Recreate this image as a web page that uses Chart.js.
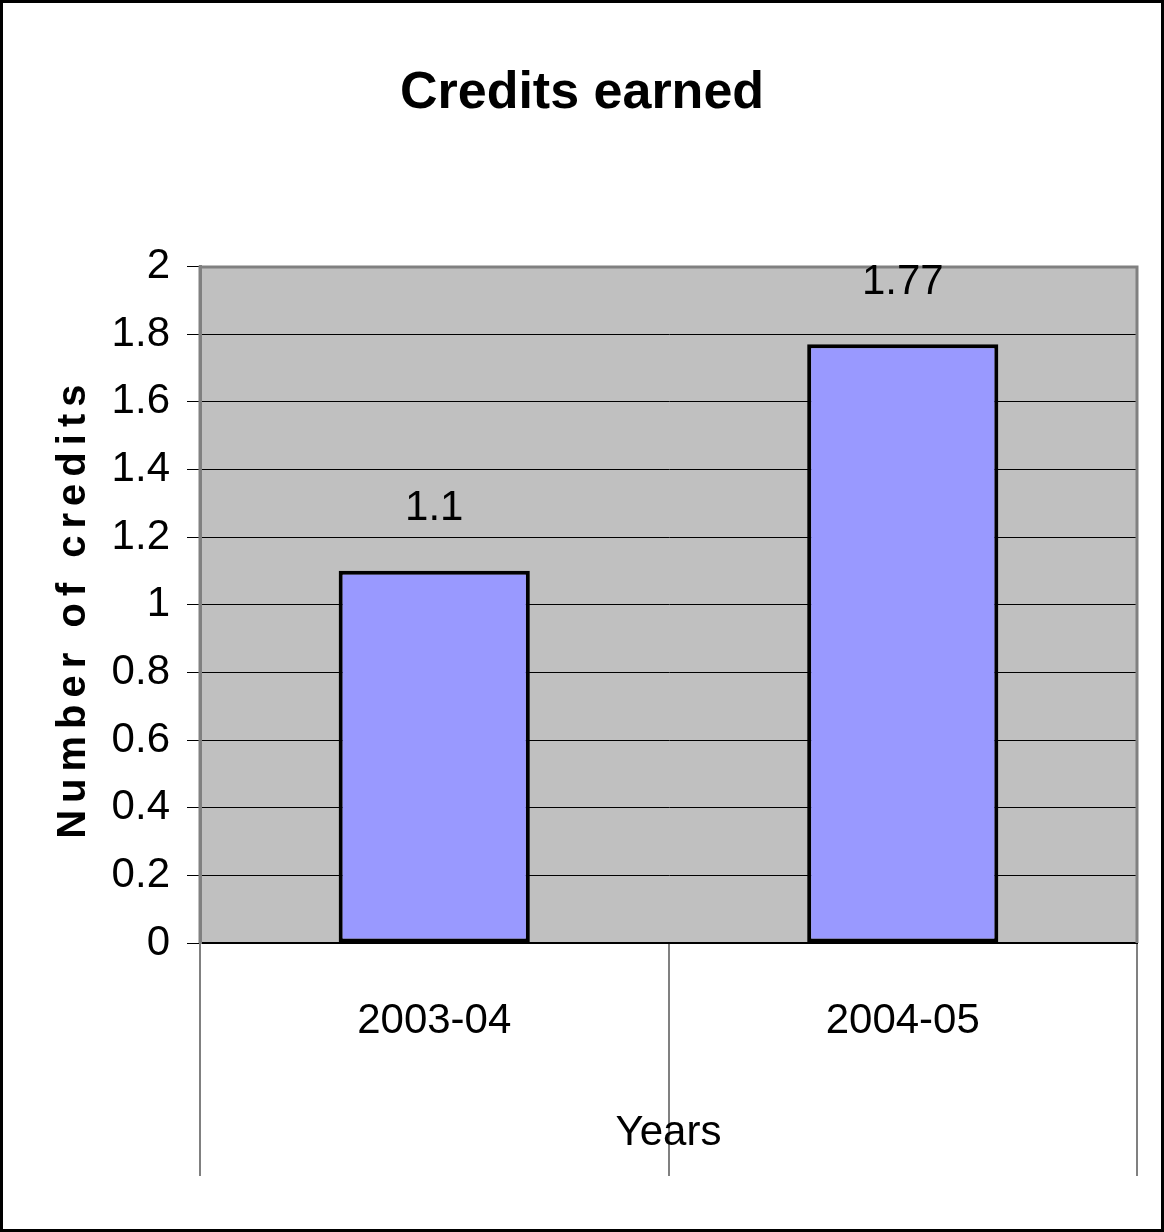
<!DOCTYPE html>
<html>
<head>
<meta charset="utf-8">
<title>Credits earned</title>
<script src="https://cdn.jsdelivr.net/npm/chart.js@4/dist/chart.umd.min.js"></script>
<style>
  html, body { margin: 0; padding: 0; background: #ffffff; }
  canvas { display: block; }
</style>
</head>
<body>
<canvas id="creditsChart" width="1164" height="1232"></canvas>
<script>
// chart data
var years = ['2003-04', '2004-05'];
var credits = [1.1, 1.77];
var yMin = 0;
var yMax = 2;
var yStep = 0.2;

var chartTitle = 'Credits earned';
var xTitle = 'Years';
var yTitle = 'Number of credits';

var narrow = '"Liberation Sans Narrow", "Arial Narrow", "Liberation Sans", Arial, sans-serif';

// gray plot background, frame, bar labels, rotated axis title and outer border
var excelLook = {
    id: 'excelLook',
    beforeDraw: function (chart) {
        var ctx = chart.ctx;
        var a = chart.chartArea;
        ctx.save();
        ctx.fillStyle = '#ffffff';
        ctx.fillRect(0, 0, chart.width, chart.height);
        ctx.fillStyle = '#C0C0C0';
        ctx.fillRect(a.left, a.top, a.right - a.left, a.bottom - a.top);
        ctx.restore();
    },
    beforeDatasetsDraw: function (chart) {
        var ctx = chart.ctx;
        var a = chart.chartArea;
        ctx.save();
        ctx.strokeStyle = '#808080';
        ctx.lineWidth = 3;
        ctx.beginPath();
        ctx.moveTo(a.left, a.bottom);
        ctx.lineTo(a.left, a.top + 0.5);
        ctx.lineTo(a.right, a.top + 0.5);
        ctx.lineTo(a.right, a.bottom);
        ctx.stroke();
        ctx.restore();
    },
    afterDatasetsDraw: function (chart) {
        var ctx = chart.ctx;
        var meta = chart.getDatasetMeta(0);
        ctx.save();
        ctx.fillStyle = '#000000';
        ctx.font = '42px ' + narrow;
        ctx.textAlign = 'center';
        ctx.textBaseline = 'middle';
        meta.data.forEach(function (bar, i) {
            ctx.fillText(String(credits[i]), bar.x, bar.y - 62);
        });
        ctx.restore();
    },
    afterDraw: function (chart) {
        var ctx = chart.ctx;
        var a = chart.chartArea;
        var spacing = 7;
        ctx.save();
        ctx.font = 'bold 40px "Liberation Sans", Arial, sans-serif';
        ctx.letterSpacing = spacing + 'px';
        var w = ctx.measureText(yTitle).width - spacing;
        var cy = (a.top + a.bottom) / 2 + 7;
        ctx.translate(85, cy + w / 2);
        ctx.rotate(-Math.PI / 2);
        ctx.fillStyle = '#000000';
        ctx.textAlign = 'left';
        ctx.textBaseline = 'alphabetic';
        ctx.fillText(yTitle, 0, 0);
        ctx.restore();

        ctx.save();
        ctx.letterSpacing = '0px';
        ctx.strokeStyle = '#000000';
        ctx.lineWidth = 3;
        ctx.strokeRect(1.5, 1.5, chart.width - 3, chart.height - 3);
        ctx.restore();
    }
};

var ctxB = document.getElementById('creditsChart').getContext('2d');
window.creditsChart = new Chart(ctxB, {
    type: 'bar',
    data: {
        labels: years,
        datasets: [{
            label: 'Credits',
            data: credits,
            backgroundColor: '#9999FF',
            borderColor: '#000000',
            borderWidth: 4,
            borderSkipped: false,
            categoryPercentage: 1,
            barPercentage: 0.408
        }]
    },
    options: {
        responsive: false,
        animation: false,
        layout: {
            padding: { top: 0, left: 27, right: 27, bottom: 56 }
        },
        plugins: {
            legend: { display: false },
            tooltip: { enabled: false },
            title: {
                display: true,
                text: chartTitle,
                color: '#000000',
                font: { family: narrow, size: 52, weight: 'bold' },
                padding: { top: 62, bottom: 142 }
            }
        },
        scales: {
            x: {
                offset: true,
                grid: {
                    display: true,
                    offset: true,
                    drawOnChartArea: false,
                    drawTicks: true,
                    tickLength: 233,
                    color: '#808080',
                    lineWidth: 2
                },
                border: { display: true, color: '#000000', width: 2 },
                ticks: {
                    color: '#000000',
                    font: { family: narrow, size: 42 },
                    padding: -180,
                    maxRotation: 0
                },
                title: {
                    display: true,
                    text: xTitle,
                    color: '#000000',
                    font: { family: narrow, size: 42 },
                    padding: { top: 0, bottom: 17 }
                },
                afterFit: function (scale) {
                    scale.height = 233;
                }
            },
            y: {
                min: yMin,
                max: yMax,
                grid: {
                    color: '#000000',
                    lineWidth: 1,
                    drawTicks: true,
                    tickLength: 13,
                    tickColor: '#000000'
                },
                border: { display: true, color: '#808080', width: 3 },
                ticks: {
                    stepSize: yStep,
                    color: '#000000',
                    font: { family: narrow, size: 42 },
                    padding: 17,
                    callback: function (value) {
                        return String(Math.round(value * 10) / 10);
                    }
                },
                title: { display: false },
                afterFit: function (scale) {
                    scale.width = 173;
                }
            }
        }
    },
    plugins: [excelLook]
});
</script>
</body>
</html>
